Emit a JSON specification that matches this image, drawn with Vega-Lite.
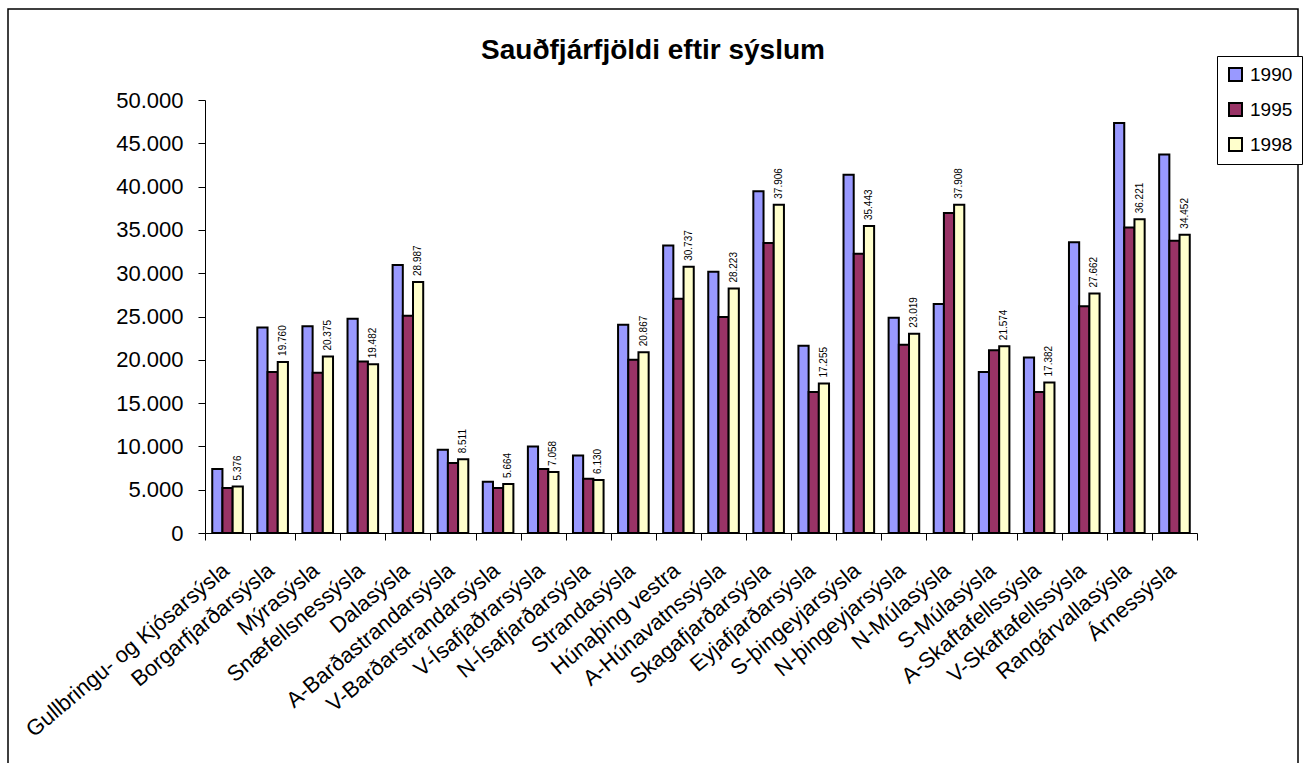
{
  "$schema": "https://vega.github.io/schema/vega-lite/v6.json",
  "width": 1290,
  "height": 764,
  "autosize": {"type": "none"},
  "padding": {"left": 8, "top": 9, "right": 6, "bottom": -10},
  "background": "white",
  "title": {
    "text": "Sauðfjárfjöldi eftir sýslum",
    "fontSize": 28,
    "fontWeight": "bold",
    "font": "Liberation Sans",
    "anchor": "middle",
    "offset": -56,
    "color": "black"
  },
  "data": {
    "values": [
      {"d": "Gullbringu- og Kjósarsýsla", "year": "1990", "value": 7400},
      {"d": "Gullbringu- og Kjósarsýsla", "year": "1995", "value": 5200},
      {"d": "Gullbringu- og Kjósarsýsla", "year": "1998", "value": 5376},
      {"d": "Borgarfjarðarsýsla", "year": "1990", "value": 23740},
      {"d": "Borgarfjarðarsýsla", "year": "1995", "value": 18600},
      {"d": "Borgarfjarðarsýsla", "year": "1998", "value": 19760},
      {"d": "Mýrasýsla", "year": "1990", "value": 23860},
      {"d": "Mýrasýsla", "year": "1995", "value": 18500},
      {"d": "Mýrasýsla", "year": "1998", "value": 20375},
      {"d": "Snæfellsnessýsla", "year": "1990", "value": 24750},
      {"d": "Snæfellsnessýsla", "year": "1995", "value": 19800},
      {"d": "Snæfellsnessýsla", "year": "1998", "value": 19482},
      {"d": "Dalasýsla", "year": "1990", "value": 30950},
      {"d": "Dalasýsla", "year": "1995", "value": 25100},
      {"d": "Dalasýsla", "year": "1998", "value": 28987},
      {"d": "A-Barðastrandarsýsla", "year": "1990", "value": 9620},
      {"d": "A-Barðastrandarsýsla", "year": "1995", "value": 8080},
      {"d": "A-Barðastrandarsýsla", "year": "1998", "value": 8511},
      {"d": "V-Barðarstrandarsýsla", "year": "1990", "value": 5920},
      {"d": "V-Barðarstrandarsýsla", "year": "1995", "value": 5200},
      {"d": "V-Barðarstrandarsýsla", "year": "1998", "value": 5664},
      {"d": "V-Ísafjaðrarsýsla", "year": "1990", "value": 10000},
      {"d": "V-Ísafjaðrarsýsla", "year": "1995", "value": 7390},
      {"d": "V-Ísafjaðrarsýsla", "year": "1998", "value": 7058},
      {"d": "N-Ísafjarðarsýsla", "year": "1990", "value": 8960},
      {"d": "N-Ísafjarðarsýsla", "year": "1995", "value": 6270},
      {"d": "N-Ísafjarðarsýsla", "year": "1998", "value": 6130},
      {"d": "Strandasýsla", "year": "1990", "value": 24050},
      {"d": "Strandasýsla", "year": "1995", "value": 20000},
      {"d": "Strandasýsla", "year": "1998", "value": 20867},
      {"d": "Húnaþing vestra", "year": "1990", "value": 33200},
      {"d": "Húnaþing vestra", "year": "1995", "value": 27050},
      {"d": "Húnaþing vestra", "year": "1998", "value": 30737},
      {"d": "A-Húnavatnssýsla", "year": "1990", "value": 30170},
      {"d": "A-Húnavatnssýsla", "year": "1995", "value": 24940},
      {"d": "A-Húnavatnssýsla", "year": "1998", "value": 28223},
      {"d": "Skagafjarðarsýsla", "year": "1990", "value": 39450},
      {"d": "Skagafjarðarsýsla", "year": "1995", "value": 33490},
      {"d": "Skagafjarðarsýsla", "year": "1998", "value": 37906},
      {"d": "Eyjafjarðarsýsla", "year": "1990", "value": 21630},
      {"d": "Eyjafjarðarsýsla", "year": "1995", "value": 16280},
      {"d": "Eyjafjarðarsýsla", "year": "1998", "value": 17255},
      {"d": "S-þingeyjarsýsla", "year": "1990", "value": 41370},
      {"d": "S-þingeyjarsýsla", "year": "1995", "value": 32250},
      {"d": "S-þingeyjarsýsla", "year": "1998", "value": 35443},
      {"d": "N-þingeyjarsýsla", "year": "1990", "value": 24860},
      {"d": "N-þingeyjarsýsla", "year": "1995", "value": 21740},
      {"d": "N-þingeyjarsýsla", "year": "1998", "value": 23019},
      {"d": "N-Múlasýsla", "year": "1990", "value": 26440},
      {"d": "N-Múlasýsla", "year": "1995", "value": 36950},
      {"d": "N-Múlasýsla", "year": "1998", "value": 37908},
      {"d": "S-Múlasýsla", "year": "1990", "value": 18600},
      {"d": "S-Múlasýsla", "year": "1995", "value": 21090},
      {"d": "S-Múlasýsla", "year": "1998", "value": 21574},
      {"d": "A-Skaftafellssýsla", "year": "1990", "value": 20280},
      {"d": "A-Skaftafellssýsla", "year": "1995", "value": 16280},
      {"d": "A-Skaftafellssýsla", "year": "1998", "value": 17382},
      {"d": "V-Skaftafellssýsla", "year": "1990", "value": 33560},
      {"d": "V-Skaftafellssýsla", "year": "1995", "value": 26170},
      {"d": "V-Skaftafellssýsla", "year": "1998", "value": 27662},
      {"d": "Rangárvallasýsla", "year": "1990", "value": 47340},
      {"d": "Rangárvallasýsla", "year": "1995", "value": 35290},
      {"d": "Rangárvallasýsla", "year": "1998", "value": 36221},
      {"d": "Árnessýsla", "year": "1990", "value": 43720},
      {"d": "Árnessýsla", "year": "1995", "value": 33750},
      {"d": "Árnessýsla", "year": "1998", "value": 34452}
    ]
  },
  "config": {
    "view": {"stroke": "black", "strokeWidth": 1.5},
    "font": "Liberation Sans",
    "locale": {"number": {"decimal": ",", "thousands": ".", "grouping": [3], "currency": ["", ""]}},
    "axis": {"domainColor": "black", "tickColor": "black", "labelColor": "black", "grid": false, "labelFont": "Liberation Sans", "domainWidth": 1, "tickWidth": 1}
  },
  "encoding": {
    "x": {
      "field": "d", "type": "nominal", "sort": null,
      "scale": {"range": [197, 1189], "paddingInner": 0, "paddingOuter": 0},
      "axis": {"title": null, "labelAngle": -40, "labelAlign": "right", "labelBaseline": "middle", "tickBand": "extent", "offset": -240, "tickSize": 7, "labelPadding": 27, "labelOffset": -2, "labelFontSize": 22, "labelLimit": 500, "labelOverlap": false, "labelBound": false}
    },
    "xOffset": {"field": "year", "type": "nominal", "scale": {"paddingInner": 0, "paddingOuter": 0.71}},
    "y": {
      "field": "value", "type": "quantitative",
      "scale": {"domain": [0, 50000], "range": [524, 91], "nice": false},
      "axis": {"title": null, "values": [0, 5000, 10000, 15000, 20000, 25000, 30000, 35000, 40000, 45000, 50000], "format": ",d", "offset": -197, "tickSize": 7, "labelPadding": 15, "labelFontSize": 22}
    }
  },
  "layer": [
    {
      "mark": {"type": "bar", "stroke": "black", "strokeWidth": 2},
      "encoding": {
        "color": {
          "field": "year", "type": "nominal",
          "scale": {"domain": ["1990", "1995", "1998"], "range": ["#9999FF", "#993366", "#FFFFCC"]},
          "legend": {"title": null, "orient": "none", "legendX": 1209, "legendY": 47, "strokeColor": "black", "fillColor": "white", "padding": 9, "rowPadding": 14, "symbolType": "square", "symbolSize": 169, "symbolStrokeColor": "black", "symbolStrokeWidth": 2, "labelFontSize": 19, "labelOffset": 5, "labelColor": "black", "labelFont": "Liberation Sans"}
        }
      }
    },
    {
      "transform": [{"filter": "datum.year == '1998'"}],
      "mark": {"type": "text", "angle": 270, "align": "left", "baseline": "middle", "dx": 6, "fontSize": 10, "font": "Liberation Sans", "color": "black"},
      "encoding": {
        "text": {"field": "value", "type": "quantitative", "format": ",d"}
      }
    }
  ]
}
